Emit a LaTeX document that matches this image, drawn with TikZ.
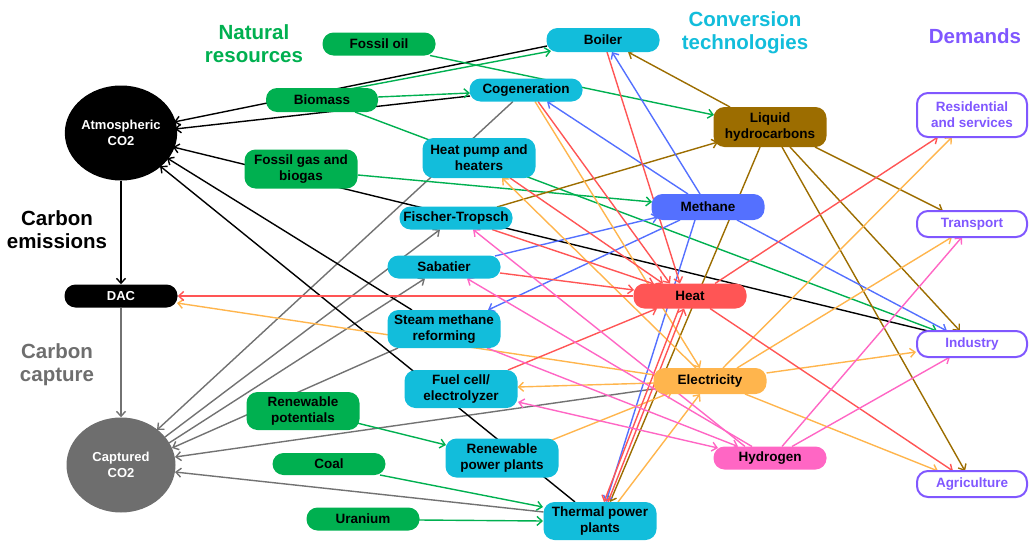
\documentclass[tikz,border=0pt]{standalone}
\usepackage{fontspec}
\setmainfont{Liberation Sans}
\usetikzlibrary{arrows.meta,shapes.geometric,calc}
\pgfdeclarelayer{bg}
\pgfsetlayers{bg,main}
\definecolor{cgreen}{HTML}{00B050}
\definecolor{ccyan}{HTML}{12BDDB}
\definecolor{cbrown}{HTML}{9C6D00}
\definecolor{cblue}{HTML}{5470FF}
\definecolor{cred}{HTML}{FF5555}
\definecolor{corange}{HTML}{FFB54D}
\definecolor{cpink}{HTML}{FF66C4}
\definecolor{cpurple}{HTML}{8057FF}
\definecolor{cgray}{HTML}{6E6E6E}
\definecolor{cgline}{HTML}{727272}
\begin{document}
\begin{tikzpicture}[x=1pt,y=-1pt,
  boxbase/.style={rectangle,rounded corners=11pt,inner sep=0pt,align=center,
    minimum width=113pt,font=\fontsize{13.5}{16}\selectfont\bfseries},
  nat/.style={boxbase,fill=cgreen,text=black},
  conv/.style={boxbase,fill=ccyan,text=black},
  carr/.style={boxbase,text=black},
  dem/.style={boxbase,draw=cpurple,line width=2pt,fill=white,text=cpurple,minimum width=110pt},
  ttl/.style={align=center,inner sep=0pt,font=\fontsize{20.5}{23}\selectfont\bfseries},
  co2/.style={ellipse,inner sep=0pt,minimum width=109pt,minimum height=95pt,text=white,align=center,
    font=\fontsize{13}{16}\selectfont\bfseries},
  ar/.style={line width=1.4pt,-{Straight Barb[length=5pt,width=9pt]}},
  arb/.style={line width=1.4pt,{Straight Barb[length=5pt,width=9pt]}-{Straight Barb[length=5pt,width=9pt]}}
]
\useasboundingbox (0,0) rectangle (1029,541);

% titles
\node[ttl,text=cgreen] (tnat) at (254,44) {Natural\\resources};
\node[ttl,text=ccyan] (tconv) at (745,33) {Conversion\\technologies};
\node[ttl,text=cpurple] (tdem) at (975,36) {Demands};
\node[ttl,text=black] (temis) at (57,230) {Carbon\\emissions};
\node[ttl,text=cgray] (tcapt) at (57,365) {Carbon\\capture};

% carbon nodes
\node[co2,fill=black] (atm) at (121,133) {Atmospheric\\CO2};
\node[co2,fill=cgray] (cap) at (121,465) {Captured\\CO2};
\node[boxbase,fill=black,text=white,minimum height=23pt,font=\fontsize{13}{15}\selectfont\bfseries] (dac) at (121,296) {DAC};

% natural resources
\node[nat,minimum height=23pt] (foil) at (379,44) {Fossil oil};
\node[nat,minimum height=24pt,minimum width=112pt] (bio) at (322,100) {Biomass};
\node[nat,minimum height=39pt] (fgas) at (301,169) {Fossil gas and\\biogas};
\node[nat,minimum height=38pt] (renp) at (303,411) {Renewable\\potentials};
\node[nat,minimum height=22pt] (coal) at (329,464) {Coal};
\node[nat,minimum height=23pt] (uran) at (363,519) {Uranium};

% conversion technologies
\node[conv,minimum height=24pt] (boil) at (603,40) {Boiler};
\node[conv,minimum height=23pt] (cog) at (526,90) {Cogeneration};
\node[conv,minimum height=40pt] (hp) at (479,158) {Heat pump and\\heaters};
\node[conv,minimum height=23pt] (ft) at (456,218) {Fischer-Tropsch};
\node[conv,minimum height=23pt] (sab) at (444,267) {Sabatier};
\node[conv,minimum height=38pt] (smr) at (444,329) {Steam methane\\reforming};
\node[conv,minimum height=38pt] (fc) at (461,389) {Fuel cell/\\electrolyzer};
\node[conv,minimum height=39pt] (rpp) at (502,458) {Renewable\\power plants};
\node[conv,minimum height=38pt] (tpp) at (600,521) {Thermal power\\plants};

% energy carriers
\node[carr,fill=cbrown,minimum height=40pt] (lh) at (770,127) {Liquid\\hydrocarbons};
\node[carr,fill=cblue,minimum height=26pt] (meth) at (708,207) {Methane};
\node[carr,fill=cred,minimum height=25pt] (heat) at (690,296) {Heat};
\node[carr,fill=corange,minimum height=26pt] (elec) at (710,381) {Electricity};
\node[carr,fill=cpink,minimum height=23pt] (hyd) at (770,458) {Hydrogen};

% demands
\node[dem,minimum height=44pt] (res) at (972,115) {Residential\\and services};
\node[dem,minimum height=26pt] (tra) at (972,224) {Transport};
\node[dem,minimum height=26pt] (ind) at (972,344) {Industry};
\node[dem,minimum height=26pt] (agr) at (972,484) {Agriculture};

\begin{pgfonlayer}{bg}
% gray: capture
\draw[ar,cgline] (dac.south) -- (cap.north);
\draw[ar,cgline] ($(cog)+(-13,11.5)$) -- ($(cap)+(36,-35)$);
\draw[ar,cgline] ($(cap)+(44,-28)$) -- ($(ft)+(-16,11.5)$);
\draw[ar,cgline] ($(cap)+(48,-22)$) -- ($(sab)+(-19,11.5)$);
\draw[ar,cgline] ($(smr)+(-46,19)$) -- ($(cap)+(51,-17)$);
\draw[ar,cgline] ($(elec)+(-50,7)$) -- ($(cap)+(54,-8)$);
\draw[ar,cgline] ($(tpp)+(-56.5,-9)$) -- ($(cap)+(54,7)$);
% black: emissions
\draw[ar,black] (atm.south) -- (dac.north);
\draw[ar,black] ($(boil)+(-56,6)$) -- ($(atm)+(53,-11)$);
\draw[ar,black] ($(cog)+(-56,6)$) -- ($(atm)+(54,-4)$);
\draw[ar,black] ($(ind)+(-44,-13)$) -- ($(atm)+(52,14)$);
\draw[ar,black] ($(smr)+(-32,-19)$) -- ($(atm)+(46,25)$);
\draw[ar,black] ($(tpp)+(-25,-19)$) -- ($(atm)+(39,33)$);
% green: natural resources
\draw[ar,cgreen] ($(bio)+(28,-11)$) -- ($(boil)+(-52,11)$);
\draw[ar,cgreen] ($(bio)+(56,-3)$) -- ($(cog)+(-56,3)$);
\draw[ar,cgreen] ($(bio)+(33,12)$) -- ($(ind)+(-35,-13)$);
\draw[ar,cgreen] ($(foil)+(51,11.5)$) -- ($(lh)+(-56,-12)$);
\draw[ar,cgreen] ($(fgas)+(57,6)$) -- ($(meth)+(-56,-5)$);
\draw[ar,cgreen] ($(renp)+(54,12)$) -- ($(rpp)+(-56,-13)$);
\draw[ar,cgreen] ($(coal)+(51,11)$) -- ($(tpp)+(-57,-14)$);
\draw[ar,cgreen] ($(uran)+(56,1)$) -- ($(tpp)+(-57,0)$);
% brown: liquid hydrocarbons
\draw[ar,cbrown] ($(lh)+(-40,-20)$) -- ($(boil)+(25,12)$);
\draw[ar,cbrown] ($(ft)+(41,-11)$) -- ($(lh)+(-52,15)$);
\draw[ar,cbrown] ($(lh)+(-10,20)$) -- ($(tpp)+(10,-19)$);
\draw[ar,cbrown] ($(lh)+(45,20)$) -- ($(tra)+(-29,-13)$);
\draw[ar,cbrown] ($(lh)+(20,20)$) -- ($(ind)+(-12,-13)$);
\draw[ar,cbrown] ($(lh)+(12,20)$) -- ($(agr)+(-7,-13)$);
% blue: methane
\draw[ar,cblue] ($(meth)+(-8,-13)$) -- ($(boil)+(9,12)$);
\draw[ar,cblue] ($(meth)+(-20,-13)$) -- ($(cog)+(21,11.5)$);
\draw[ar,cblue] ($(sab)+(51,-11)$) -- ($(meth)+(-50,10)$);
\draw[ar,cblue] ($(meth)+(-28,13)$) -- ($(smr)+(44,-19)$);
\draw[ar,cblue] ($(meth)+(-13,13)$) -- ($(tpp)+(6,-19)$);
\draw[ar,cblue] ($(meth)+(29,13)$) -- ($(ind)+(-25,-13)$);
% orange: electricity
\draw[ar,corange] ($(cog)+(9,11.5)$) -- ($(elec)+(-10,-13)$);
\draw[ar,corange] ($(elec)+(-14,-13)$) -- ($(hp)+(23,20)$);
\draw[ar,corange] ($(elec)+(-55,-6)$) -- ($(dac)+(56,7)$);
\draw[ar,corange] ($(elec)+(-56,2)$) -- ($(fc)+(56.5,-2)$);
\draw[ar,corange] ($(rpp)+(50,-18)$) -- ($(elec)+(-38,11)$);
\draw[ar,corange] ($(tpp)+(18,-19)$) -- ($(elec)+(-10,13)$);
\draw[ar,corange] ($(elec)+(13,-13)$) -- ($(res)+(-20,22)$);
\draw[ar,corange] ($(elec)+(27,-13)$) -- ($(tra)+(-20,13)$);
\draw[ar,corange] ($(elec)+(56.5,-8)$) -- ($(ind)+(-56,8)$);
\draw[ar,corange] ($(elec)+(35,13)$) -- ($(agr)+(-34,-13)$);
% red: heat
\draw[ar,cred] ($(boil)+(4,12)$) -- ($(heat)+(-10,-12.5)$);
\draw[ar,cred] ($(cog)+(12,11.5)$) -- ($(heat)+(-20,-12.5)$);
\draw[ar,cred] ($(hp)+(31,20)$) -- ($(heat)+(-27,-12.5)$);
\draw[ar,cred] ($(ft)+(36,11.5)$) -- ($(heat)+(-36,-12)$);
\draw[ar,cred] ($(sab)+(56,6)$) -- ($(heat)+(-56,-6)$);
\draw[ar,cred] (heat.west) -- (dac.east);
\draw[ar,cred] ($(fc)+(47,-19)$) -- ($(heat)+(-33,12.5)$);
\draw[ar,cred] ($(tpp)+(8,-19)$) -- ($(heat)+(-6,12.5)$);
\draw[ar,cred] ($(heat)+(-11,12.5)$) -- ($(tpp)+(4,-19)$);
\draw[ar,cred] ($(heat)+(25,-12.5)$) -- ($(res)+(-34,22)$);
\draw[ar,cred] ($(heat)+(20,12.5)$) -- ($(agr)+(-19,-13)$);
% pink: hydrogen
\draw[ar,cpink] ($(hyd)+(-25,-11.5)$) -- ($(ft)+(17,11.5)$);
\draw[ar,cpink] ($(hyd)+(-18,-11.5)$) -- ($(sab)+(23,11.5)$);
\draw[arb,cpink] ($(fc)+(57,13)$) -- ($(hyd)+(-52,-10)$);
\draw[ar,cpink] ($(smr)+(43,19)$) -- ($(hyd)+(-32,-11.5)$);
\draw[ar,cpink] ($(hyd)+(12,-11.5)$) -- ($(tra)+(-10,13)$);
\draw[ar,cpink] ($(hyd)+(22,-11.5)$) -- ($(ind)+(-22,13)$);
\end{pgfonlayer}
\end{tikzpicture}
\end{document}
